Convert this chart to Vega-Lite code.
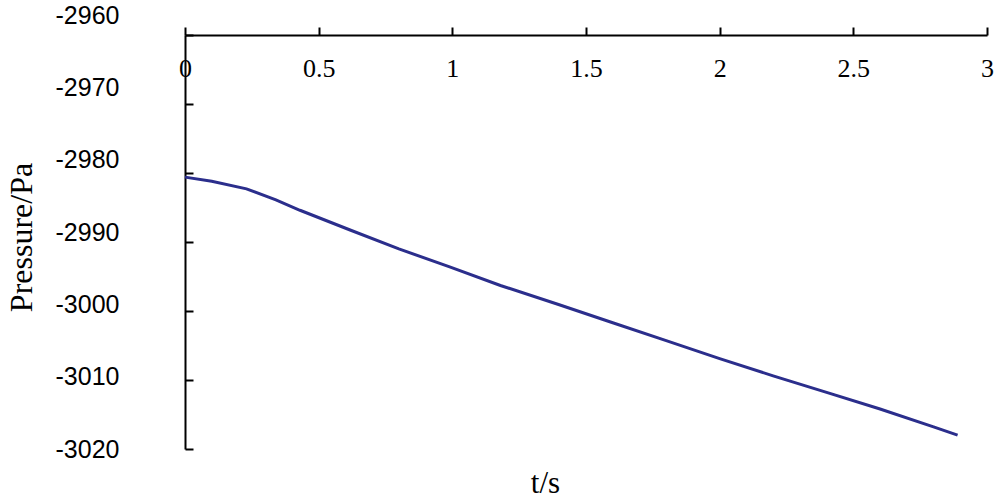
{
  "$schema": "https://vega.github.io/schema/vega-lite/v6.json",
  "autosize": "none",
  "width": 802,
  "height": 414,
  "padding": {"left": 185, "top": 35, "right": 13, "bottom": 49},
  "background": "white",
  "config": {"view": {"stroke": null}},
  "data": {
    "values": [
      {"t": 0.0, "p": -2980.6},
      {"t": 0.1, "p": -2981.2},
      {"t": 0.23, "p": -2982.3},
      {"t": 0.34, "p": -2983.9},
      {"t": 0.43, "p": -2985.4},
      {"t": 0.62, "p": -2988.3},
      {"t": 0.8, "p": -2991.0},
      {"t": 0.99, "p": -2993.6},
      {"t": 1.18, "p": -2996.3},
      {"t": 1.4, "p": -2999.1},
      {"t": 1.6, "p": -3001.7},
      {"t": 1.8, "p": -3004.3},
      {"t": 2.0, "p": -3006.9},
      {"t": 2.2, "p": -3009.4},
      {"t": 2.4, "p": -3011.8},
      {"t": 2.6, "p": -3014.2},
      {"t": 2.8, "p": -3016.8},
      {"t": 2.89, "p": -3018.0}
    ]
  },
  "mark": {"type": "line", "color": "#2b2e8c", "strokeWidth": 3},
  "encoding": {
    "x": {
      "field": "t",
      "type": "quantitative",
      "scale": {"domain": [0, 3], "nice": false, "zero": false},
      "axis": {
        "orient": "top",
        "title": "t/s",
        "values": [0, 0.5, 1, 1.5, 2, 2.5, 3],
        "labelExpr": "toString(datum.value)",
        "grid": false,
        "domainColor": "#000000",
        "domainWidth": 2,
        "tickColor": "#000000",
        "tickWidth": 2,
        "tickSize": 8,
        "labelFont": "Liberation Serif",
        "labelFontSize": 26,
        "labelColor": "#000000",
        "labelBaseline": "middle",
        "labelPadding": -41,
        "labelFlush": false,
        "titleFont": "Liberation Serif",
        "titleFontSize": 31,
        "titleFontWeight": "normal",
        "titleColor": "#000000",
        "titleX": 360,
        "titleY": 448,
        "titleBaseline": "middle",
        "titleAlign": "center"
      }
    },
    "y": {
      "field": "p",
      "type": "quantitative",
      "scale": {"domain": [-3020, -2960], "nice": false, "zero": false},
      "axis": {
        "orient": "left",
        "title": "Pressure/Pa",
        "values": [-3020, -3010, -3000, -2990, -2980, -2970, -2960],
        "labelExpr": "toString(datum.value)",
        "grid": false,
        "domainColor": "#000000",
        "domainWidth": 2,
        "tickColor": "#000000",
        "tickWidth": 2,
        "tickSize": -8,
        "labelFont": "Liberation Sans",
        "labelFontSize": 25,
        "labelColor": "#000000",
        "labelPadding": 74,
        "labelFlush": false,
        "labelOffset": {"expr": "(datum.value + 3020) * -0.33"},
        "titleFont": "Liberation Serif",
        "titleFontSize": 32,
        "titleFontWeight": "normal",
        "titleColor": "#000000",
        "titleX": -164,
        "titleY": 202,
        "titleBaseline": "middle",
        "titleAlign": "center",
        "titleAngle": -90
      }
    }
  }
}
